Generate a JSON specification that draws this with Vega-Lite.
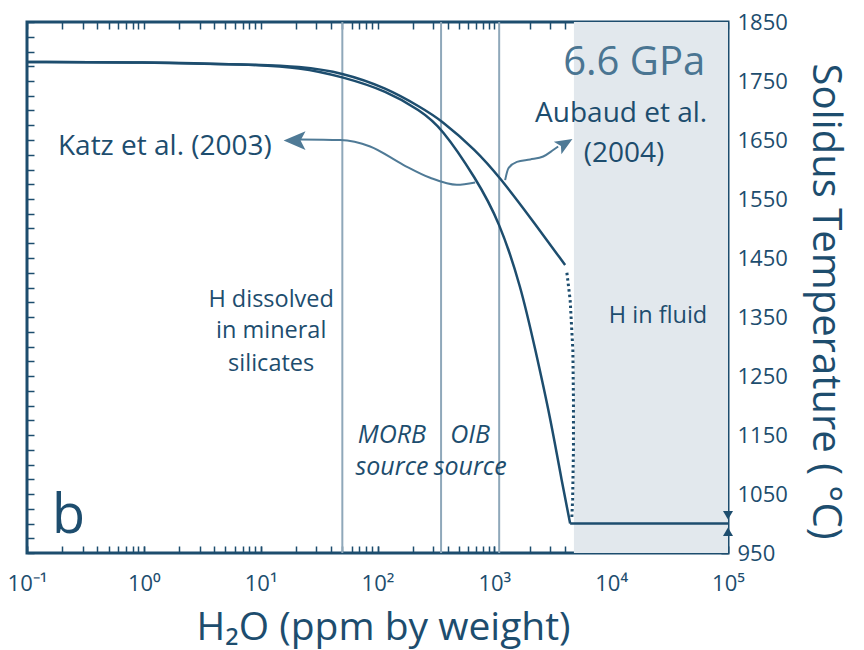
{
  "$schema": "https://vega.github.io/schema/vega-lite/v6.json",
  "width": 701,
  "height": 531,
  "autosize": "none",
  "padding": {"left": 27, "top": 22, "right": 136, "bottom": 97},
  "background": "white",
  "config": {
    "font": "Open Sans",
    "view": {"stroke": "#1d4d6e", "strokeWidth": 3},
    "axis": {
      "domain": false, "grid": false, "tickColor": "#1d4d6e", "tickWidth": 1.5, "tickSize": -7, "zindex": 1,
      "labelColor": "#1d4d6e", "titleColor": "#1d4d6e", "labelFont": "Open Sans", "titleFont": "Open Sans",
      "titleFontWeight": "normal", "labelFlush": false, "labelOverlap": false, "labelBound": false
    }
  },
  "resolve": {"axis": {"x": "independent", "y": "independent"}},
  "layer": [
    {
      "data": {"values": [{"from": 4800, "to": 100000}]},
      "mark": {"type": "rect", "color": "#e2e8ed"},
      "encoding": {
        "x": {
          "field": "from", "type": "quantitative",
          "scale": {"type": "log", "domain": [0.1, 100000], "nice": false},
          "axis": {
            "orient": "bottom",
            "values": [0.1, 1, 10, 100, 1000, 10000, 100000],
            "labelExpr": "datum.value == 0.1 ? '10⁻¹' : datum.value == 1 ? '10⁰' : datum.value == 10 ? '10¹' : datum.value == 100 ? '10²' : datum.value == 1000 ? '10³' : datum.value == 10000 ? '10⁴' : '10⁵'",
            "labelFontSize": 22, "labelPadding": 27,
            "title": "H₂O (ppm by weight)", "titleFontSize": 39,
            "titleX": 356, "titleY": 86, "titleAlign": "center", "titleBaseline": "alphabetic"
          }
        },
        "x2": {"field": "to"},
        "y": {
          "datum": 950, "type": "quantitative",
          "scale": {"domain": [950, 1850], "nice": false, "zero": false},
          "axis": {
            "orient": "right",
            "values": [950, 1050, 1150, 1250, 1350, 1450, 1550, 1650, 1750, 1850],
            "format": "d",
            "labelFontSize": 22, "labelPadding": 16, "labelAlign": "left", "labelBaseline": "middle",
            "title": "Solidus Temperature ( °C)", "titleFontSize": 40, "titleAngle": 90,
            "titleX": 84, "titleY": 279, "titleAlign": "center", "titleBaseline": "alphabetic"
          }
        },
        "y2": {"datum": 1850}
      }
    },
    {
      "data": {"values": [{"h2o": 50}, {"h2o": 350}, {"h2o": 1100}]},
      "mark": {"type": "rule", "color": "#8fa8ba", "strokeWidth": 2},
      "encoding": {
        "x": {"field": "h2o", "type": "quantitative", "axis": null}
      }
    },
    {
      "data": {"values": [
        {"series": "Katz", "h2o": 0.1, "temp": 1782},
        {"series": "Katz", "h2o": 1, "temp": 1782},
        {"series": "Katz", "h2o": 8.1, "temp": 1778},
        {"series": "Katz", "h2o": 21.7, "temp": 1773},
        {"series": "Katz", "h2o": 50.7, "temp": 1757},
        {"series": "Katz", "h2o": 120, "temp": 1733},
        {"series": "Katz", "h2o": 232, "temp": 1700},
        {"series": "Katz", "h2o": 351, "temp": 1672},
        {"series": "Katz", "h2o": 700, "temp": 1584},
        {"series": "Katz", "h2o": 1099, "temp": 1513},
        {"series": "Katz", "h2o": 1694, "temp": 1401},
        {"series": "Katz", "h2o": 2234, "temp": 1296},
        {"series": "Katz", "h2o": 3005, "temp": 1181},
        {"series": "Katz", "h2o": 3805, "temp": 1068},
        {"series": "Katz", "h2o": 4456, "temp": 1000},
        {"series": "Aubaud", "h2o": 0.1, "temp": 1782},
        {"series": "Aubaud", "h2o": 1, "temp": 1782},
        {"series": "Aubaud", "h2o": 8.1, "temp": 1778},
        {"series": "Aubaud", "h2o": 21.7, "temp": 1775},
        {"series": "Aubaud", "h2o": 50.7, "temp": 1764},
        {"series": "Aubaud", "h2o": 120, "temp": 1738},
        {"series": "Aubaud", "h2o": 232, "temp": 1706},
        {"series": "Aubaud", "h2o": 351, "temp": 1684},
        {"series": "Aubaud", "h2o": 700, "temp": 1632},
        {"series": "Aubaud", "h2o": 1099, "temp": 1588},
        {"series": "Aubaud", "h2o": 2028, "temp": 1519},
        {"series": "Aubaud", "h2o": 4036, "temp": 1438},
        {"series": "floor", "h2o": 4456, "temp": 1000},
        {"series": "floor", "h2o": 100000, "temp": 1000}
      ]},
      "mark": {"type": "line", "color": "#1d4d6e", "strokeWidth": 2.5, "interpolate": "basis"},
      "encoding": {
        "x": {
          "field": "h2o", "type": "quantitative",
          "scale": {"type": "log", "domain": [0.1, 100000], "nice": false},
          "axis": {
            "orient": "top", "labels": false, "title": null,
            "values": [0.1,0.2,0.3,0.4,0.5,0.6,0.7,0.8,0.9,1,2,3,4,5,6,7,8,9,10,20,30,40,50,60,70,80,90,100,200,300,400,500,600,700,800,900,1000,2000,3000,4000,5000,6000,7000,8000,9000,10000,20000,30000,40000,50000,60000,70000,80000,90000,100000]
          }
        },
        "y": {
          "field": "temp", "type": "quantitative",
          "scale": {"domain": [950, 1850], "nice": false, "zero": false},
          "axis": {
            "orient": "left", "labels": false, "title": null,
            "values": [950,975,1000,1025,1050,1075,1100,1125,1150,1175,1200,1225,1250,1275,1300,1325,1350,1375,1400,1425,1450,1475,1500,1525,1550,1575,1600,1625,1650,1675,1700,1725,1750,1775,1800,1825,1850]
          }
        },
        "detail": {"field": "series"}
      }
    },
    {
      "data": {"values": [
        {"i": 1, "h2o": 4178, "temp": 1425},
        {"i": 2, "h2o": 4456, "temp": 1379},
        {"i": 3, "h2o": 4699, "temp": 1294},
        {"i": 4, "h2o": 4755, "temp": 1209},
        {"i": 5, "h2o": 4755, "temp": 1125},
        {"i": 6, "h2o": 4677, "temp": 1040},
        {"i": 7, "h2o": 4600, "temp": 1008}
      ]},
      "mark": {"type": "line", "color": "#1d4d6e", "strokeWidth": 3, "strokeDash": [2.5, 3], "interpolate": "linear"},
      "encoding": {
        "x": {
          "field": "h2o", "type": "quantitative",
          "axis": {
            "orient": "bottom", "labels": false, "title": null,
            "values": [0.1,0.2,0.3,0.4,0.5,0.6,0.7,0.8,0.9,1,2,3,4,5,6,7,8,9,10,20,30,40,50,60,70,80,90,100,200,300,400,500,600,700,800,900,1000,2000,3000,4000,5000,6000,7000,8000,9000,10000,20000,30000,40000,50000,60000,70000,80000,90000,100000]
          }
        },
        "y": {
          "field": "temp", "type": "quantitative",
          "axis": {
            "orient": "right", "labels": false, "title": null,
            "values": [950,975,1000,1025,1050,1075,1100,1125,1150,1175,1200,1225,1250,1275,1300,1325,1350,1375,1400,1425,1450,1475,1500,1525,1550,1575,1600,1625,1650,1675,1700,1725,1750,1775,1800,1825,1850]
          }
        },
        "order": {"field": "i"}
      }
    },
    {
      "data": {"values": [
        {"series": "katzArrow", "h2o": 21.7, "temp": 1651},
        {"series": "katzArrow", "h2o": 47.9, "temp": 1650},
        {"series": "katzArrow", "h2o": 86.5, "temp": 1639},
        {"series": "katzArrow", "h2o": 166, "temp": 1608},
        {"series": "katzArrow", "h2o": 282, "temp": 1586},
        {"series": "katzArrow", "h2o": 477, "temp": 1574},
        {"series": "katzArrow", "h2o": 685, "temp": 1578},
        {"series": "aubaudArrow", "h2o": 1237, "temp": 1582},
        {"series": "aubaudArrow", "h2o": 1320, "temp": 1602},
        {"series": "aubaudArrow", "h2o": 1560, "temp": 1613},
        {"series": "aubaudArrow", "h2o": 2028, "temp": 1617},
        {"series": "aubaudArrow", "h2o": 2620, "temp": 1622},
        {"series": "aubaudArrow", "h2o": 3188, "temp": 1633},
        {"series": "aubaudArrow", "h2o": 3518, "temp": 1639}
      ]},
      "mark": {"type": "line", "color": "#4f7a96", "strokeWidth": 2, "interpolate": "monotone"},
      "encoding": {
        "x": {"field": "h2o", "type": "quantitative", "axis": null},
        "y": {"field": "temp", "type": "quantitative", "axis": null},
        "detail": {"field": "series"}
      }
    },
    {
      "data": {"values": [{"h2o": 19.5, "temp": 1649}]},
      "mark": {"type": "point", "shape": "M1,0L-1,-0.85L-0.55,0L-1,0.85Z", "filled": true, "opacity": 1, "color": "#4f7a96", "size": 480, "angle": 180},
      "encoding": {
        "x": {"field": "h2o", "type": "quantitative", "axis": null},
        "y": {"field": "temp", "type": "quantitative", "axis": null}
      }
    },
    {
      "data": {"values": [{"h2o": 4027, "temp": 1644}]},
      "mark": {"type": "point", "shape": "M1,0L-1,-0.85L-0.55,0L-1,0.85Z", "filled": true, "opacity": 1, "color": "#4f7a96", "size": 300, "angle": -31},
      "encoding": {
        "x": {"field": "h2o", "type": "quantitative", "axis": null},
        "y": {"field": "temp", "type": "quantitative", "axis": null}
      }
    },
    {
      "data": {"values": [{"h2o": 100000, "temp": 1014}]},
      "mark": {"type": "point", "shape": "triangle-down", "filled": true, "opacity": 1, "color": "#1d4d6e", "size": 100},
      "encoding": {
        "x": {"field": "h2o", "type": "quantitative", "axis": null},
        "y": {"field": "temp", "type": "quantitative", "axis": null}
      }
    },
    {
      "data": {"values": [{"h2o": 100000, "temp": 986}]},
      "mark": {"type": "point", "shape": "triangle-up", "filled": true, "opacity": 1, "color": "#1d4d6e", "size": 100},
      "encoding": {
        "x": {"field": "h2o", "type": "quantitative", "axis": null},
        "y": {"field": "temp", "type": "quantitative", "axis": null}
      }
    },
    {
      "data": {"values": [{"t": "6.6 GPa", "h2o": 63800, "temp": 1760}]},
      "mark": {"type": "text", "align": "right", "baseline": "alphabetic", "fontSize": 40, "color": "#4a7592"},
      "encoding": {
        "x": {"field": "h2o", "type": "quantitative", "axis": null},
        "y": {"field": "temp", "type": "quantitative", "axis": null},
        "text": {"field": "t"}
      }
    },
    {
      "data": {"values": [{"t": "Aubaud et al.", "h2o": 66400, "temp": 1680}]},
      "mark": {"type": "text", "align": "right", "baseline": "alphabetic", "fontSize": 28, "color": "#1d4d6e"},
      "encoding": {
        "x": {"field": "h2o", "type": "quantitative", "axis": null},
        "y": {"field": "temp", "type": "quantitative", "axis": null},
        "text": {"field": "t"}
      }
    },
    {
      "data": {"values": [{"t": "(2004)", "h2o": 12900, "temp": 1613}]},
      "mark": {"type": "text", "align": "center", "baseline": "alphabetic", "fontSize": 28, "color": "#1d4d6e"},
      "encoding": {
        "x": {"field": "h2o", "type": "quantitative", "axis": null},
        "y": {"field": "temp", "type": "quantitative", "axis": null},
        "text": {"field": "t"}
      }
    },
    {
      "data": {"values": [{"t": "Katz et al. (2003)", "h2o": 0.184, "temp": 1625}]},
      "mark": {"type": "text", "align": "left", "baseline": "alphabetic", "fontSize": 28, "color": "#1d4d6e"},
      "encoding": {
        "x": {"field": "h2o", "type": "quantitative", "axis": null},
        "y": {"field": "temp", "type": "quantitative", "axis": null},
        "text": {"field": "t"}
      }
    },
    {
      "data": {"values": [{"t": "H in fluid", "h2o": 66400, "temp": 1340}]},
      "mark": {"type": "text", "align": "right", "baseline": "alphabetic", "fontSize": 23.5, "color": "#1d4d6e"},
      "encoding": {
        "x": {"field": "h2o", "type": "quantitative", "axis": null},
        "y": {"field": "temp", "type": "quantitative", "axis": null},
        "text": {"field": "t"}
      }
    },
    {
      "data": {"values": [
        {"t": "H dissolved", "h2o": 12.3, "temp": 1367},
        {"t": "in mineral", "h2o": 12.3, "temp": 1314},
        {"t": "silicates", "h2o": 12.3, "temp": 1258}
      ]},
      "mark": {"type": "text", "align": "center", "baseline": "alphabetic", "fontSize": 23.5, "color": "#1d4d6e"},
      "encoding": {
        "x": {"field": "h2o", "type": "quantitative", "axis": null},
        "y": {"field": "temp", "type": "quantitative", "axis": null},
        "text": {"field": "t"}
      }
    },
    {
      "data": {"values": [
        {"t": "MORB", "h2o": 133, "temp": 1136},
        {"t": "source", "h2o": 133, "temp": 1082},
        {"t": "OIB", "h2o": 621, "temp": 1136},
        {"t": "source", "h2o": 621, "temp": 1082}
      ]},
      "mark": {"type": "text", "align": "center", "baseline": "alphabetic", "fontSize": 25, "fontStyle": "italic", "color": "#1d4d6e"},
      "encoding": {
        "x": {"field": "h2o", "type": "quantitative", "axis": null},
        "y": {"field": "temp", "type": "quantitative", "axis": null},
        "text": {"field": "t"}
      }
    },
    {
      "data": {"values": [{"t": "b", "h2o": 0.164, "temp": 984}]},
      "mark": {"type": "text", "align": "left", "baseline": "alphabetic", "fontSize": 54, "color": "#1d4d6e"},
      "encoding": {
        "x": {"field": "h2o", "type": "quantitative", "axis": null},
        "y": {"field": "temp", "type": "quantitative", "axis": null},
        "text": {"field": "t"}
      }
    }
  ]
}
